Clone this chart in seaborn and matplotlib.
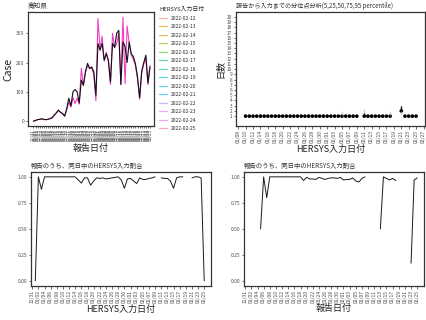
import numpy as np
import pandas as pd
import matplotlib
matplotlib.use("Agg")
import matplotlib.pyplot as plt
import matplotlib.dates as mdates
from matplotlib.lines import Line2D
import seaborn as sns

# ---------------- data ----------------
# top-left: cases by report date (12/31 .. 02/25)
report_start, report_end = "2021-12-31", "2022-02-25"
cases_total = [0, 2, 5, 6, 8, 6, 5, 6, 9, 12,
               20, 28, 37, 30, 26, 17, 43, 78, 52, 100,
               108, 100, 62, 140, 122, 170, 197, 180, 185, 168,
               88, 265, 242, 265, 208, 230, 208, 134, 265, 252,
               300, 310, 125, 270, 255, 200, 270, 230, 220, 195,
               150, 80, 170, 200, 225, 130, 185]
cases_0225 = [0, 2, 5, 6, 7, 5, 5, 6, 8, 10,
              22, 28, 38, 30, 26, 17, 38, 65, 48, 80,
              60, 78, 58, 180, 122, 165, 190, 180, 180, 160,
              70, 350, 245, 290, 205, 235, 205, 125, 300, 250,
              265, 300, 125, 355, 128, 325, 265, 225, 210, 190,
              145, 75, 165, 195, 215, 125, 190]
legend_dates = ["2022-02-12", "2022-02-13", "2022-02-14", "2022-02-15", "2022-02-16",
                "2022-02-17", "2022-02-18", "2022-02-19", "2022-02-20", "2022-02-21",
                "2022-02-22", "2022-02-23", "2022-02-24", "2022-02-25"]
legend_colors = ["#F8766D", "#E38900", "#C49A00", "#99A800", "#53B400", "#00BC56", "#00C094",
                 "#00BFC4", "#00B6EB", "#06A4FF", "#A58AFF", "#DF70F8", "#FB61D7", "#FF66A8"]

# top-right: delay percentiles by HERSYS input date
input_dates = ["2022-01-10", "2022-01-11", "2022-01-12", "2022-01-13", "2022-01-14", "2022-01-15",
               "2022-01-16", "2022-01-17", "2022-01-18", "2022-01-19", "2022-01-20", "2022-01-21",
               "2022-01-22", "2022-01-23", "2022-01-24", "2022-01-25", "2022-01-26", "2022-01-27",
               "2022-01-28", "2022-01-29", "2022-01-30", "2022-01-31", "2022-02-01", "2022-02-02",
               "2022-02-03", "2022-02-04", "2022-02-05", "2022-02-06", "2022-02-07", "2022-02-08",
               "2022-02-09", "2022-02-11", "2022-02-12", "2022-02-13", "2022-02-14", "2022-02-15",
               "2022-02-16", "2022-02-17", "2022-02-18", "2022-02-21", "2022-02-22", "2022-02-23",
               "2022-02-24", "2022-02-25"]
p5 = [1] * 39 + [1.2, 1, 1, 1, 1]
p25 = [1] * 39 + [2, 1, 1, 1, 1]
p50 = [1] * 39 + [2, 1, 1, 1, 1]
p75 = [1] * 31 + [1.6, 1, 1, 1, 1, 1, 1, 1] + [3, 1, 1, 1, 1]
p95 = ([1] * 26 + [2, 1, 1, 1, 1] + [2.3, 1, 1, 1, 1, 1, 1, 2] + [3.2, 1, 1, 1, 1])

# bottom-left: same-day input ratio by HERSYS input date (01/01 .. 02/25)
ratio_input_start = "2022-01-01"
ratio_input = [0.0, 1.0, 0.88, 1.0, 1.0, 1.0, 1.0, 1.0, 1.0, 1.0,
               1.0, 1.0, 1.0, 1.0, 0.97, 0.94, 0.99, 0.99, 0.92, 0.96,
               0.99, 0.985, 0.99, 0.98, 0.985, 0.99, 0.995, 1.0, 0.97, 0.89,
               0.98, 0.985, 0.96, 0.935, 0.99, 0.975, 0.975, 0.985, 0.99, 1.0,
               np.nan, 0.99, 0.985, 0.985, 0.96, 0.89, 0.99, 1.0, 1.0, np.nan,
               np.nan, 0.99, 1.0, 1.0, 0.99, 0.0]
# bottom-right: same-day input ratio by report date (01/05 .. 02/25)
ratio_report_start = "2022-01-05"
ratio_report = [0.5, 1.0, 0.8, 1.0, 1.0, 1.0, 1.0, 1.0, 1.0, 1.0,
                1.0, 1.0, 1.0, 1.0, 0.965, 0.995, 0.98, 0.98, 0.975, 0.995,
                0.985, 0.975, 0.985, 0.99, 0.99, 0.985, 0.995, 0.97, 0.975, 0.975,
                0.99, 0.96, 0.95, 0.985, 1.0, np.nan, np.nan, np.nan, np.nan, 0.5,
                1.0, 0.985, 0.97, 0.985, 0.965, np.nan, np.nan, np.nan, np.nan, 0.17,
                0.97, 0.99]

# ---------------- style ----------------
sns.set_theme(style="white")
plt.rcParams["font.family"] = ["Noto Sans CJK JP", "DejaVu Sans"]
plt.rcParams["axes.edgecolor"] = "#333333"
plt.rcParams["axes.linewidth"] = 0.9
TICK = 3.6
fig = plt.figure(figsize=(4.27, 3.2), dpi=100)
fig.patch.set_facecolor("white")


def style_ax(ax):
    ax.tick_params(axis="both", which="both", length=1.8, width=0.5, color="#333333",
                   labelsize=TICK, labelcolor="#4d4d4d", pad=1, bottom=True, left=True)
    for s in ax.spines.values():
        s.set_color("#333333")
        s.set_linewidth(0.9)


def segments(dates, values):
    seg = np.cumsum(pd.isna(pd.Series(values)).values)
    return pd.DataFrame({"date": dates, "v": values, "seg": seg}).dropna()


# ---------------- top-left ----------------
ax1 = fig.add_axes([0.0656, 0.606, 0.295, 0.356])
rdates = pd.date_range(report_start, report_end)
df1 = pd.concat([
    pd.DataFrame({"date": rdates, "case": cases_0225, "s": "2022-02-25"}),
    pd.DataFrame({"date": rdates, "case": cases_total, "s": "total"}),
])
sns.lineplot(data=df1, x="date", y="case", hue="s",
             palette={"2022-02-25": "#F03FC2", "total": "#111111"},
             linewidth=0.8, ax=ax1, legend=False)
ax1.set_xlim(rdates[0] - pd.Timedelta(days=2.6), rdates[-1] + pd.Timedelta(days=1.9))
ax1.set_ylim(-17, 372)
ax1.set_yticks([0, 100, 200, 300])
ax1.set_xticks(rdates)
ax1.xaxis.set_major_formatter(mdates.DateFormatter("%m/%d"))
style_ax(ax1)
ax1.tick_params(axis="x", labelrotation=90, labelsize=3.3, length=1.2)
ax1.set_xlabel("報告日付", fontsize=6.5, color="#222222", labelpad=2)
ax1.set_ylabel("Case", fontsize=7.5, color="#222222", labelpad=2)
ax1.set_title("高知県", loc="left", fontsize=4.8, color="#333333", pad=3)
handles = [Line2D([0], [0], color=c, lw=0.9, alpha=0.6) for c in legend_colors]
fig.legend(handles, legend_dates, title="HERSYS入力日付", loc="upper left",
           bbox_to_anchor=(0.368, 0.985), frameon=False, fontsize=3.5,
           title_fontsize=4.2, handlelength=1.6, labelspacing=0.72,
           borderaxespad=0, alignment="left")

# ---------------- top-right ----------------
ax2 = fig.add_axes([0.5527, 0.606, 0.4426, 0.356])
idates = pd.to_datetime(input_dates)
ax2.vlines(idates, p5, p95, color="#a0a0a0", lw=0.4)
ax2.vlines(idates, p25, p75, color="#111111", lw=1.0)
sns.scatterplot(x=idates, y=p50, color="black", s=7, marker="o", edgecolor="none", ax=ax2)
ax2.set_xlim(idates[0] - pd.Timedelta(days=2.6), idates[-1] + pd.Timedelta(days=2.4))
ax2.set_ylim(-0.9, 20.9)
ax2.set_yticks(range(1, 21))
ax2.set_xticks(pd.date_range("2022-01-08", "2022-02-27", freq="2D"))
ax2.xaxis.set_major_formatter(mdates.DateFormatter("%m/%d"))
style_ax(ax2)
ax2.tick_params(axis="x", labelrotation=90)
ax2.tick_params(axis="y", labelsize=3.4)
ax2.set_xlabel("HERSYS入力日付", fontsize=6.5, color="#222222", labelpad=1)
ax2.set_ylabel("日数", fontsize=6.5, color="#222222", labelpad=1)
ax2.set_title("報告から入力までの分位点分析(5,25,50,75,95 percentile)", loc="left",
              fontsize=4.4, color="#333333", pad=3)

# ---------------- bottom panels ----------------
bticks = pd.date_range("2021-12-31", "2022-02-25", freq="2D")
for pos, start, vals, xl in [
    ([0.0726, 0.106, 0.4215, 0.356], ratio_input_start, ratio_input, "HERSYS入力日付"),
    ([0.5714, 0.106, 0.4215, 0.356], ratio_report_start, ratio_report, "報告日付"),
]:
    ax = fig.add_axes(pos)
    d = pd.date_range(start, periods=len(vals))
    df = segments(d, vals)
    sns.lineplot(data=df, x="date", y="v", units="seg", estimator=None,
                 color="#1a1a1a", linewidth=0.7, ax=ax)
    ax.set_xlim(pd.Timestamp("2021-12-31") - pd.Timedelta(days=0.4),
                pd.Timestamp("2022-02-25") + pd.Timedelta(days=2.2))
    ax.set_ylim(-0.05, 1.045)
    ax.set_yticks([0, 0.25, 0.5, 0.75, 1.0])
    ax.set_yticklabels(["0.00", "0.25", "0.50", "0.75", "1.00"])
    ax.set_xticks(bticks)
    ax.xaxis.set_major_formatter(mdates.DateFormatter("%m/%d"))
    style_ax(ax)
    ax.tick_params(axis="x", labelrotation=90)
    ax.set_xlabel(xl, fontsize=6.5, color="#222222", labelpad=1)
    ax.set_ylabel("")
    ax.set_title("報告のうち、同日中のHERSYS入力割合", loc="left", fontsize=4.6,
                 color="#333333", pad=3)

fig.savefig("out.png", dpi=100, facecolor="white")
